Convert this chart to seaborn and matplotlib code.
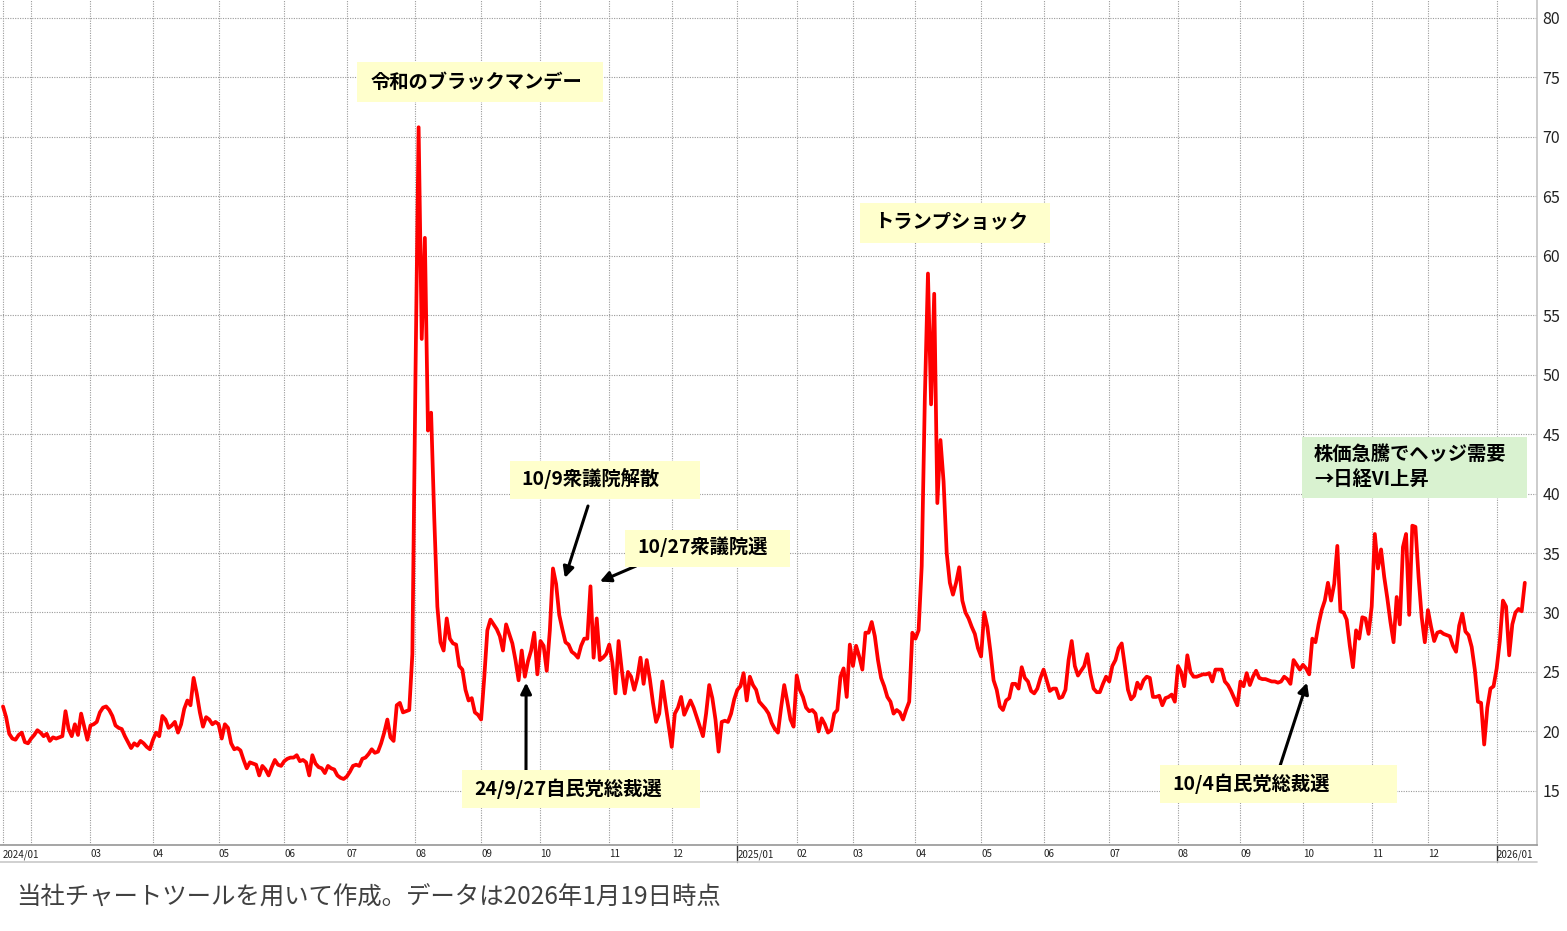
import numpy as np
import pandas as pd
import matplotlib
matplotlib.use("Agg")
import matplotlib.pyplot as plt
import matplotlib.transforms as mtransforms
from matplotlib.patches import Rectangle
from matplotlib.lines import Line2D
import seaborn as sns

# 東証休場日（期間内）
holidays = [
    "2024-02-12", "2024-02-23", "2024-03-20", "2024-04-29", "2024-05-03", "2024-05-06",
    "2024-07-15", "2024-08-12", "2024-09-16", "2024-09-23", "2024-10-14", "2024-11-04",
    "2024-12-31", "2025-01-01", "2025-01-02", "2025-01-03", "2025-01-13", "2025-02-11",
    "2025-02-24", "2025-03-20", "2025-04-29", "2025-05-05", "2025-05-06", "2025-07-21",
    "2025-08-11", "2025-09-15", "2025-09-23", "2025-10-13", "2025-11-03", "2025-11-24",
    "2025-12-31", "2026-01-01", "2026-01-02", "2026-01-12",
]

# 日経VI 終値（チャートからの読み取り）
vi_2024 = [
    22.1, 21.2, 19.8, 19.4, 19.3, 19.7, 19.9, 19.1, 19.0,
    19.4, 19.7, 20.1, 19.9, 19.6, 19.8, 19.2, 19.5, 19.4, 19.5, 19.6, 21.7, 20.2, 19.6, 20.6, 19.7, 21.5, 20.4, 19.3,
    20.5, 20.6, 20.8, 21.6, 22.0, 22.1, 21.8, 21.3, 20.5, 20.3, 20.2, 19.6, 19.1, 18.6, 19.0, 18.8, 19.2, 19.0, 18.7, 18.5,
    19.3, 19.9, 19.6, 21.3, 21.0, 20.3, 20.5, 20.8, 19.9, 20.6, 21.9, 22.6, 22.2, 24.5, 23.2, 21.6, 20.4, 21.2, 21.0, 20.6, 20.8,
    20.6, 19.4, 20.6, 20.3, 19.0, 18.5, 18.6, 18.4, 17.6, 16.9, 17.4, 17.3, 17.2, 16.3, 17.1, 16.8, 16.3, 17.0, 17.6, 17.2, 17.1,
    17.5, 17.7, 17.8, 17.8, 18.0, 17.5, 17.6, 17.4, 16.3, 18.0, 17.3, 17.0, 16.9, 16.5, 17.1, 16.9, 16.8, 16.3, 16.1, 16.0,
    16.2, 16.6, 17.1, 17.2, 17.1, 17.7, 17.8, 18.1, 18.5, 18.2, 18.3, 19.0, 19.9, 21.0, 19.5, 19.2, 22.2, 22.4, 21.6, 21.7, 21.8, 26.5,
    50.0, 70.8, 53.0, 61.5, 45.3, 46.8, 38.0, 30.5, 27.5, 26.8, 29.5, 27.8, 27.4, 27.3, 25.5, 25.2, 23.5, 22.6, 22.8, 21.6, 21.4,
    21.0, 24.5, 28.5, 29.4, 29.0, 28.6, 28.0, 26.8, 29.0, 28.2, 27.4, 26.0, 24.3, 26.8, 24.6, 25.9, 26.8, 28.3, 24.8,
    27.6, 27.2, 25.1, 28.5, 33.7, 32.4, 29.8, 28.6, 27.5, 27.3, 26.7, 26.5, 26.2, 27.2, 27.8, 27.8, 32.2, 26.2, 29.5, 26.0, 26.2, 26.5,
    27.3, 25.8, 23.2, 27.6, 25.2, 23.2, 25.0, 24.6, 23.5, 24.5, 26.2, 24.0, 26.0, 24.4, 22.4, 20.8, 21.5, 24.2, 22.3, 20.5,
    18.7, 21.5, 22.0, 22.9, 21.4, 22.0, 22.6, 22.0, 21.2, 20.4, 19.6, 21.5, 23.9, 22.8, 21.0, 18.3, 20.8, 20.9, 20.8, 21.5, 22.7,
]
vi_2025 = [
    23.5, 23.8, 24.9, 22.6, 24.6, 23.9, 23.5, 22.5, 22.2, 21.9, 21.5, 20.7, 20.2, 19.9, 22.0, 23.9, 22.5, 21.0, 20.4,
    24.7, 23.5, 22.9, 22.0, 21.7, 21.8, 21.5, 20.0, 21.1, 20.6, 19.9, 20.1, 21.5, 21.8, 24.6, 25.3, 22.9, 27.3,
    25.5, 27.2, 26.3, 25.2, 28.3, 28.3, 29.2, 28.0, 26.0, 24.5, 23.8, 22.9, 22.5, 21.5, 21.8, 21.6, 21.0, 21.8, 22.5, 28.3,
    27.8, 28.5, 33.9, 48.0, 58.5, 47.5, 56.8, 39.2, 44.5, 41.0, 35.0, 32.5, 31.5, 32.5, 33.8, 31.0, 30.0, 29.5, 28.8, 28.2, 27.0,
    26.3, 30.0, 28.8, 26.7, 24.3, 23.5, 22.1, 21.8, 22.6, 22.8, 24.0, 24.0, 23.6, 25.4, 24.5, 24.2, 23.4, 23.2, 23.6, 24.5,
    25.2, 24.3, 23.4, 23.6, 23.6, 22.8, 22.9, 23.5, 26.0, 27.6, 25.5, 24.7, 25.1, 25.5, 26.5, 24.8, 23.6, 23.3, 23.3, 24.0, 24.6,
    24.2, 25.5, 26.0, 27.0, 27.4, 25.5, 23.5, 22.7, 23.0, 24.1, 23.6, 24.3, 24.6, 24.5, 22.9, 22.9, 23.0, 22.2, 22.8, 22.9, 23.1, 22.5,
    25.5, 25.0, 23.8, 26.4, 25.0, 24.6, 24.6, 24.7, 24.8, 24.8, 24.9, 24.2, 25.2, 25.2, 25.2, 24.2, 23.9, 23.4, 22.8, 22.2,
    24.2, 23.8, 24.9, 23.9, 24.6, 25.1, 24.5, 24.4, 24.4, 24.3, 24.2, 24.2, 24.1, 24.2, 24.6, 24.4, 24.0, 26.0, 25.6, 25.2,
    25.6, 25.3, 24.8, 27.8, 27.5, 29.0, 30.2, 31.0, 32.5, 31.0, 32.4, 35.6, 30.1, 30.0, 29.4, 27.2, 25.4, 28.5, 27.8, 29.6, 29.5, 28.2,
    30.5, 36.6, 33.7, 35.3, 33.0, 31.2, 29.2, 27.5, 31.3, 29.0, 35.5, 36.6, 29.8, 37.3, 37.2, 33.0, 29.6, 27.5,
    30.2, 28.8, 27.6, 28.3, 28.4, 28.2, 28.1, 28.0, 27.2, 26.7, 28.9, 29.9, 28.4, 28.1, 27.1, 25.2, 22.5, 22.4, 18.9, 22.0, 23.6, 23.8,
]
vi_2026 = [25.3, 27.6, 31.0, 30.5, 26.4, 29.0, 30.0, 30.3, 30.1, 32.5]

y_ticks = list(range(15, 85, 5))

bday = pd.offsets.CustomBusinessDay(holidays=holidays)
dates = pd.date_range("2024-01-19", "2026-01-19", freq=bday)
vi = vi_2024 + vi_2025 + vi_2026
df = pd.DataFrame({"date": dates[:len(vi)], "vi": vi[:len(dates)]})
df["pos"] = np.arange(len(df))

sns.set_theme(style="white")
plt.rcParams["font.family"] = ["Noto Sans CJK JP", "DejaVu Sans"]

W, H = 1567, 931
fig = plt.figure(figsize=(W / 100, H / 100), dpi=100)
ax = fig.add_axes([0, 86 / H, 1537 / W, 845 / H])


def fx(x):
    return x / W


def fy(y):
    return 1 - y / H


sns.lineplot(data=df, x="pos", y="vi", color="#ff0000", linewidth=2.7, ax=ax, zorder=3)

ax.set_xlim(-0.96, 490.9)
ax.set_ylim(10.45, 81.5)

# 月初の営業日に目盛り
firsts = df.groupby(df["date"].dt.to_period("M"))["pos"].first()
tick_pos, tick_lab, year_pos = [], [], []
prev = None
for per, p in firsts.items():
    if per.month == 1:
        lab = f"{per.year}/01"
        if p > 0:
            year_pos.append(p)
    else:
        lab = f"{per.month:02d}"
    if prev is not None and p - prev < 15:
        lab = ""
    tick_pos.append(p)
    tick_lab.append(lab)
    prev = p

ax.set_xticks(tick_pos)
ax.set_xticklabels(tick_lab, ha="left", fontsize=7, color="#222222")
ax.tick_params(axis="x", direction="inout", length=4, width=0.8, color="#555555", pad=1)
ax.set_yticks(y_ticks)
ax.yaxis.tick_right()
ax.tick_params(axis="y", length=0, pad=4, labelsize=11.5, labelcolor="#222222")
ax.set_xlabel("")
ax.set_ylabel("")

ax.grid(True, color="#9a9a9a", linestyle=(0, (1, 1.2)), linewidth=0.8)

for s in ["top", "left"]:
    ax.spines[s].set_visible(False)
ax.spines["bottom"].set_color("#9a9a9a")
ax.spines["right"].set_color("#c4c4c4")
ax.spines["right"].set_linewidth(1.2)

trans = mtransforms.blended_transform_factory(ax.transData, ax.transAxes)
for p in year_pos:
    ax.plot([p, p], [0, -17 / 845], transform=trans, color="#333333", lw=1, clip_on=False)

fig.add_artist(Line2D([0, fx(1537)], [fy(862), fy(862)], color="#c8c8c8", lw=1.2))

# 注記ボックス
boxes = [
    ((357, 62, 603, 102), "#ffffcc", [(371, 82, "令和のブラックマンデー")]),
    ((860, 203, 1050, 243), "#ffffcc", [(874, 222, "トランプショック")]),
    ((510, 461, 700, 499), "#ffffcc", [(521, 479, "10/9衆議院解散")]),
    ((625, 530, 790, 567), "#ffffcc", [(637, 547, "10/27衆議院選")]),
    ((462, 770, 700, 808), "#ffffcc", [(474, 789, "24/9/27自民党総裁選")]),
    ((1160, 765, 1397, 803), "#ffffcc", [(1172, 784, "10/4自民党総裁選")]),
    ((1302, 437, 1527, 498), "#d9f2d0", [(1314, 454, "株価急騰でヘッジ需要"), (1314, 479, "→日経VI上昇")]),
]
for (x0, y0, x1, y1), col, texts in boxes:
    fig.add_artist(Rectangle((fx(x0), fy(y1)), fx(x1) - fx(x0), fy(y0) - fy(y1),
                             transform=fig.transFigure, facecolor=col, edgecolor="none", zorder=5))
    for tx, ty, s in texts:
        fig.text(fx(tx), fy(ty), s, ha="left", va="center", fontsize=13.9,
                 fontweight="bold", color="black", zorder=6)

# 矢印
arrows = [
    ((588, 506), (179.8, 32.9)),
    ((636, 566), (191.0, 32.6)),
    ((526, 770), (167.4, 24.1)),
    ((1280, 766), (417.3, 24.1)),
]
for (tx, ty), head in arrows:
    ax.annotate("", xy=head, xycoords="data", xytext=(fx(tx), fy(ty)),
                textcoords="figure fraction",
                arrowprops=dict(arrowstyle="-|>", color="black", lw=2.2,
                                mutation_scale=16, shrinkA=0, shrinkB=0),
                zorder=7)

fig.text(fx(16), fy(898), "当社チャートツールを用いて作成。データは2026年1月19日時点",
         ha="left", va="center", fontsize=17.6, color="#404040")

fig.savefig("out.png", dpi=100)
